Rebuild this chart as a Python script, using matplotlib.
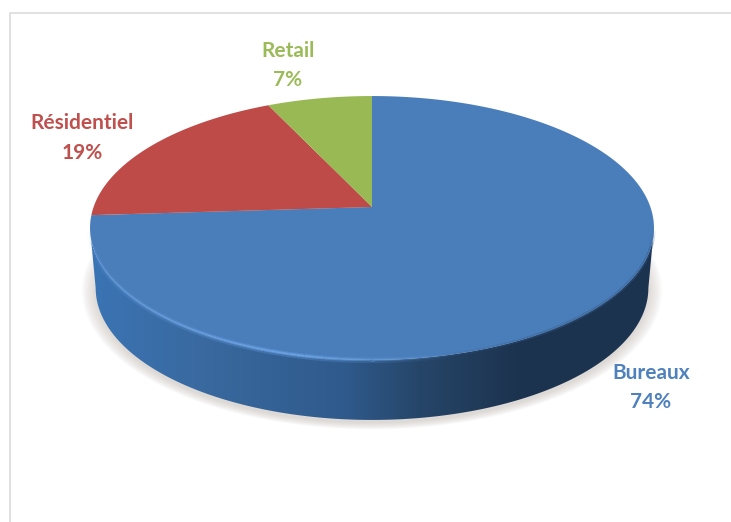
# -*- coding: utf-8 -*-
import numpy as np
from matplotlib import pyplot as plt
from matplotlib.colors import LinearSegmentedColormap
from matplotlib.collections import LineCollection
from matplotlib.patches import Polygon, Rectangle

# slices, clockwise from twelve o'clock
categories = ["Bureaux", "Résidentiel", "Retail"]
shares = [74, 19, 7]
colors = ["#4a7ebb", "#be4b48", "#98b954"]
label_colors = ["#4f81bd", "#c0504d", "#9bbb59"]
label_pos = [(651, 387.5), (82, 138), (288, 65.5)]

# tilted disc, in pixels of the figure
APEX_X, APEX_Y = 372, 207
TILT = 0.159
SCALE_X, SCALE_Y = 278.4, 95.7
DEPTH = 60


def disc_point(theta, r=1.0):
    # theta clockwise from the top, perspective makes the far side smaller
    u = r * np.sin(theta)
    v = r * np.cos(theta)
    d = 1 + TILT * v
    return APEX_X + SCALE_X * u / d, (APEX_Y - SCALE_Y * v) / d


def bottom_point(theta):
    x, y = disc_point(theta)
    return APEX_X + 1 + (x - APEX_X - 1) * 0.98, y + DEPTH


def rim_lines(r, stops, alphas, rgb, lw):
    # one arc along the front edge, alpha varies from left to right
    rim = np.linspace(2 * np.pi - widest, widest, 240)
    rx, ry = disc_point(rim, r)
    pts = np.column_stack([rx, ry]).reshape(-1, 1, 2)
    segs = np.concatenate([pts[:-1], pts[1:]], axis=1)
    cols = np.tile(np.array(list(rgb) + [0.0]), (len(segs), 1))
    cols[:, 3] = np.interp(np.linspace(0, 1, len(segs)), stops, alphas)
    ax.add_collection(LineCollection(segs, colors=cols, linewidths=lw, zorder=4))


plt.rcParams["font.family"] = ["Lato", "DejaVu Sans"]

fig = plt.figure(figsize=(7.31, 5.22), dpi=100)
ax = fig.add_axes([0, 0, 1, 1])
ax.set_xlim(0, 731)
ax.set_ylim(522, 0)
ax.axis("off")

# chart frame, only its top and left edges fall inside the figure
ax.add_patch(Rectangle((9.5, 12.5), 740, 530, fc="white", ec="#dcdcdc", lw=1.2))

# soft shadow under the disc
all_round = np.linspace(0, 2 * np.pi, 300)
bx, by = bottom_point(all_round)
for grow in np.linspace(1.05, 1.0, 16):
    ax.fill(372 + (bx - 372) * grow, 290 + (by - 290) * grow + 3,
            color="#b8b0a8", alpha=0.03, lw=0)

# side wall with the light falling from the left
widest = np.pi / 2 + np.arcsin(TILT)
front = np.linspace(widest, 2 * np.pi - widest, 300)
tx, ty = disc_point(front)
bx, by = bottom_point(front)
wall = Polygon(np.vstack([np.column_stack([tx, ty]),
                          np.column_stack([bx, by])[::-1]]),
               closed=True, fc="none", ec="none")
ax.add_patch(wall)
wall_cmap = LinearSegmentedColormap.from_list(
    "wall", [(0, "#3b74b4"), (0.2, "#39699f"), (0.45, "#2f5a8c"),
             (0.58, "#264669"), (0.75, "#1d3450"), (1, "#1c3350")])
im = ax.imshow(np.linspace(0, 1, 256).reshape(1, -1), cmap=wall_cmap,
               extent=(91, 655, 425, 225), aspect="auto", zorder=2)
im.set_clip_path(wall)
ax.set_xlim(0, 731)
ax.set_ylim(522, 0)

# top surface
start = 0.0
for share, color in zip(shares, colors):
    end = start + share / sum(shares) * 2 * np.pi
    theta = np.linspace(start, end, 200)
    x, y = disc_point(theta)
    ax.fill(np.r_[APEX_X, x], np.r_[APEX_Y, y], color=color, lw=0, zorder=3)
    start = end

# bevel along the front rim, bright on the left, soft and dark on the right
rim_lines(1.0, [0, 0.12, 0.42, 0.6, 1], [0.0, 0.3, 0.7, 0.0, 0.0], (0.44, 0.66, 0.92), 1.8)
rim_lines(1.002, [0, 0.12, 0.42, 0.6, 1], [0.0, 0.12, 0.3, 0.0, 0.0], (0.44, 0.66, 0.92), 4)
rim_lines(1.0, [0, 0.55, 0.7, 0.95, 1], [0.0, 0.0, 0.4, 0.4, 0.0], (0.2, 0.36, 0.55), 2.6)

# labels, name above the share
for name, share, color, (lx, ly) in zip(categories, shares, label_colors, label_pos):
    ax.text(lx, ly, "%s\n%d%%" % (name, share), color=color, fontsize=15,
            fontweight="bold", ha="center", va="center", linespacing=1.62, zorder=5)

fig.savefig("out.png", dpi=100)
